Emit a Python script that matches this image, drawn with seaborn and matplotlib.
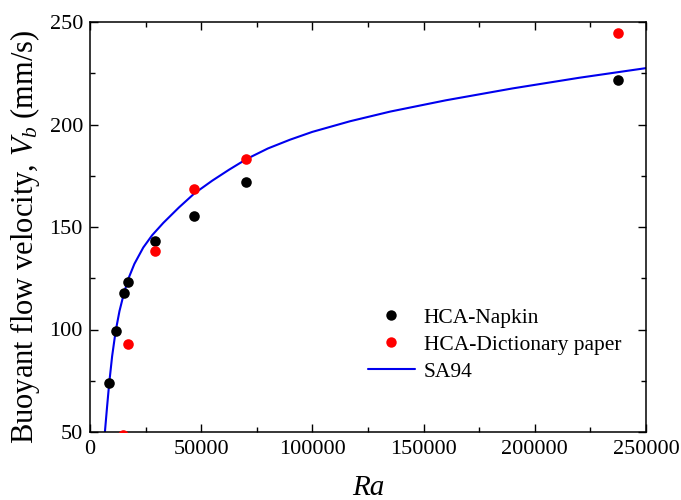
import matplotlib
matplotlib.use("Agg")
import matplotlib.pyplot as plt
from matplotlib.ticker import MultipleLocator
from matplotlib.lines import Line2D
import seaborn as sns
import pandas as pd

# HCA-Napkin
napkin_ra = [8700, 11550, 15150, 17100, 29300, 46900, 70200, 237400]
napkin_v = [73.8, 99.5, 117.7, 123.1, 143.2, 155.6, 171.9, 221.8]

# HCA-Dictionary paper
dict_ra = [15000, 17100, 29300, 46900, 70200, 237400]
dict_v = [48.5, 92.9, 138.5, 168.3, 183.3, 244.6]

# SA94 curve
sa_ra = [6750, 7700, 8700, 10000, 11550, 13300, 15150, 17200, 20000, 24000,
         28000, 33000, 40000, 47000, 55000, 62500, 70500, 80000, 90000,
         100000, 117000, 135000, 160000, 190000, 220000, 250000]
sa_v = [50, 62, 74, 87, 99, 109, 117, 124.5, 132, 140,
        146, 152, 159.5, 166.4, 172.6, 177.9, 183.2, 188.3, 192.6,
        196.4, 201.6, 206.3, 211.8, 217.6, 222.8, 227.5]

sns.set_theme(style="ticks")
plt.rcParams['font.family'] = ['Liberation Serif', 'DejaVu Serif']
plt.rcParams['mathtext.fontset'] = 'custom'
plt.rcParams['mathtext.rm'] = 'Liberation Serif'
plt.rcParams['mathtext.it'] = 'Liberation Serif:italic'
plt.rcParams['text.color'] = 'black'
plt.rcParams['axes.labelcolor'] = 'black'

fig = plt.figure(figsize=(6.81, 5.00), dpi=100)
ax = fig.add_axes([0.132, 0.136, 0.8166, 0.820])

df_n = pd.DataFrame({"Ra": napkin_ra, "V": napkin_v})
df_d = pd.DataFrame({"Ra": dict_ra, "V": dict_v})
df_s = pd.DataFrame({"Ra": sa_ra, "V": sa_v})

sns.scatterplot(data=df_n, x="Ra", y="V", ax=ax, color="black", s=58,
                linewidth=0, zorder=3)
sns.scatterplot(data=df_d, x="Ra", y="V", ax=ax, color="red", s=58,
                linewidth=0, zorder=3)
sns.lineplot(data=df_s, x="Ra", y="V", ax=ax, color="#0000ee", linewidth=1.5,
             zorder=2, sort=False)

ax.set_xlim(0, 250000)
ax.set_ylim(50, 250)
ax.xaxis.set_major_locator(MultipleLocator(50000))
ax.xaxis.set_minor_locator(MultipleLocator(25000))
ax.yaxis.set_major_locator(MultipleLocator(50))
ax.yaxis.set_minor_locator(MultipleLocator(25))
ax.tick_params(which='both', direction='in', top=True, right=True,
               labelsize=16, width=1.0, colors='black', labelcolor='black')
ax.tick_params(axis='x', which='major', pad=6)
ax.tick_params(axis='y', which='major', pad=5)
ax.tick_params(which='major', length=6)
ax.tick_params(which='minor', length=3.5)
for sp in ax.spines.values():
    sp.set_visible(True)
    sp.set_linewidth(1.1)
    sp.set_color('black')

ax.set_xlabel("Ra", fontsize=21, style='italic', labelpad=11)
ax.set_ylabel(r"Buoyant flow velocity, $V_b$ (mm/s)", fontsize=22)
ax.yaxis.set_label_coords(-0.087, 0.475)

handles = [
    Line2D([], [], marker='o', linestyle='none', color='black', markersize=7.5, markeredgewidth=0),
    Line2D([], [], marker='o', linestyle='none', color='red', markersize=7.5, markeredgewidth=0),
    Line2D([], [], color='#0000ee', linewidth=1.5),
]
ax.legend(handles, ["HCA-Napkin", "HCA-Dictionary paper", "SA94"],
          loc='lower right', bbox_to_anchor=(0.99, 0.075), frameon=False,
          fontsize=15.5, handlelength=2.2, handletextpad=0.4, labelspacing=0.33)

fig.savefig("out.png", dpi=100)
